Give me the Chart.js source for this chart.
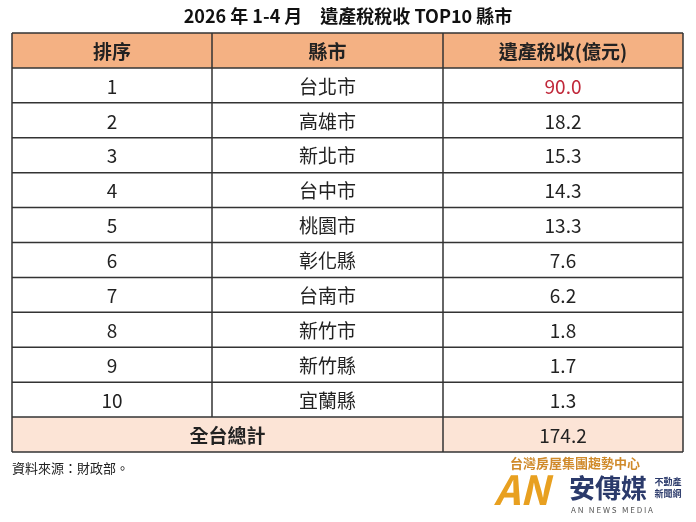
<!DOCTYPE html>
<html><head><meta charset="utf-8">
<script src="https://cdn.jsdelivr.net/npm/chart.js@4"></script>
<style>html,body{margin:0;padding:0;background:#fff}#c{display:block}</style>
</head><body>
<div style="width:696px;height:522px"><canvas id="c"></canvas></div>
<script>
const title = "2026 年 1-4 月　遺產稅稅收 TOP10 縣市";
const headers = ["排序","縣市","遺產稅收(億元)"];
const ranks = ["1","2","3","4","5","6","7","8","9","10"];
const cities = ["台北市","高雄市","新北市","台中市","桃園市","彰化縣","台南市","新竹市","新竹縣","宜蘭縣"];
const values = [90.0,18.2,15.3,14.3,13.3,7.6,6.2,1.8,1.7,1.3];
const totalLabel = "全台總計";
const totalValue = 174.2;
const colEdges = [0,200,431,671];
const source = "資料來源：財政部。";
const F = '"Noto Sans CJK TC","Noto Sans",sans-serif';

const rowLabels = ["header", ...ranks, "total"];

const tablePlugin = {
  id:'table',
  afterDraw(chart){
    const ctx = chart.ctx, x = chart.scales.x, y = chart.scales.y;
    const n = rowLabels.length;
    const rowH = y.getPixelForValue(1) - y.getPixelForValue(0);
    const top = y.getPixelForValue(0) - rowH/2, bottom = y.getPixelForValue(n-1) + rowH/2;
    const xs = colEdges.map(v=>x.getPixelForValue(v));
    ctx.save();
    ctx.fillStyle = '#f4b183';
    ctx.fillRect(xs[0], top, xs[3]-xs[0], rowH);
    ctx.fillStyle = '#fce4d6';
    ctx.fillRect(xs[0], bottom-rowH, xs[3]-xs[0], rowH);
    ctx.strokeStyle = '#333'; ctx.lineWidth = 1.5;
    for (let i=0;i<=n;i++){ const yy = top + i*rowH; ctx.beginPath(); ctx.moveTo(xs[0],yy); ctx.lineTo(xs[3],yy); ctx.stroke(); }
    xs.forEach((xx,j)=>{ ctx.beginPath(); ctx.moveTo(xx,top); ctx.lineTo(xx,(j===1)?bottom-rowH:bottom); ctx.stroke(); });
    ctx.textAlign='center'; ctx.textBaseline='middle';
    const cx = j => (xs[j]+xs[j+1])/2;
    ctx.fillStyle='#222'; ctx.font = 'bold 19px '+F;
    headers.forEach((h,j)=>ctx.fillText(h, cx(j), y.getPixelForValue(0)+1));
    ctx.font = '19px '+F;
    for (let i=0;i<ranks.length;i++){
      const yy = y.getPixelForValue(i+1)+1;
      ctx.fillStyle='#222';
      ctx.fillText(ranks[i], cx(0), yy);
      ctx.fillText(cities[i], cx(1), yy);
      ctx.fillStyle = i===0 ? '#c0283a' : '#222';
      ctx.fillText(values[i].toFixed(1), cx(2), yy);
    }
    const ty = y.getPixelForValue(n-1)+1;
    ctx.fillStyle='#222'; ctx.font='bold 19px '+F;
    ctx.fillText(totalLabel, (xs[0]+xs[2])/2, ty);
    ctx.font='19px '+F;
    ctx.fillText(totalValue.toFixed(1), cx(2), ty);
    ctx.font='bold 18px '+F; ctx.fillStyle='#111';
    ctx.fillText(title, 348, 16);
    ctx.textAlign='left'; ctx.font='13px '+F; ctx.fillStyle='#222';
    ctx.fillText(source, 12, 468);
    ctx.textAlign='center';
    ctx.font='bold 13px '+F; ctx.fillStyle='#d08a2a';
    ctx.fillText("台灣房屋集團趨勢中心", 575, 463);
    ctx.font='bold 26px '+F; ctx.fillStyle='#2b3a6b';
    ctx.fillText("安傳媒", 608, 488);
    ctx.font='bold 9px '+F;
    ctx.fillText("不動產", 668, 482); ctx.fillText("新聞網", 668, 494);
    ctx.font='8px '+F; ctx.fillStyle='#555';
    ctx.fillText("A N   N E W S   M E D I A", 612, 510);
    ctx.fillStyle='#e8a020'; ctx.font='italic bold 40px '+F;
    ctx.fillText("AN", 522, 490);
    ctx.restore();
  }
};

new Chart(document.getElementById('c'), {
  type:'bar',
  data:{ labels: rowLabels, datasets:[{ data: rowLabels.map(()=>null) }] },
  options:{
    responsive:true, maintainAspectRatio:false, animation:false,
    layout:{ padding:{ top:33, bottom:70, left:12, right:13 } },
    plugins:{ legend:{display:false}, tooltip:{enabled:false} },
    indexAxis:'y',
    scales:{
      x:{ type:'linear', min:0, max:671, display:false },
      y:{ type:'category', display:false, offset:true }
    }
  },
  plugins:[tablePlugin]
});
</script>
</body></html>
